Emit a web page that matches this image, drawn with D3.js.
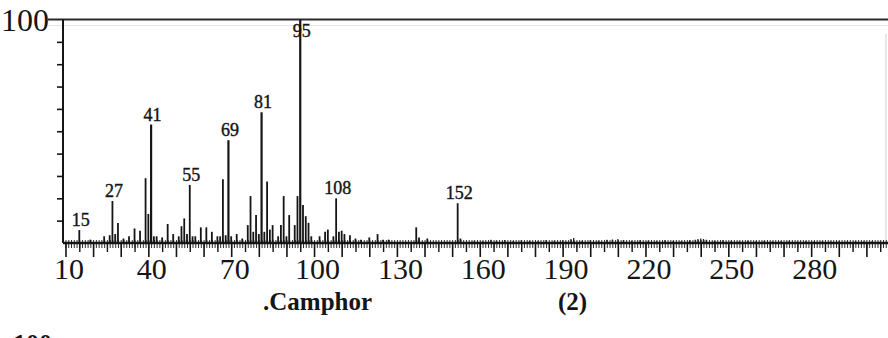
<!DOCTYPE html>
<html>
<head>
<meta charset="utf-8">
<script src="https://cdn.jsdelivr.net/npm/d3@7/dist/d3.min.js"></script>
<style>
  html, body { margin: 0; padding: 0; background: #fff; }
  svg { display: block; }
  .axis path { display: none; }
  .axis line { stroke: #151515; }
</style>
</head>
<body>
<div id="chart"></div>
<script>
// Camphor EI mass spectrum (relative intensity %)
let peakMz  = [15, 19, 24, 26, 27, 28, 29, 31, 33, 35, 37, 39, 40, 41, 42, 43, 45, 47, 49, 51,
               52, 53, 54, 55, 56, 57, 59, 61, 63, 65, 66, 67, 68, 69, 70, 72, 74, 76, 77, 78,
               79, 80, 81, 82, 83, 84, 85, 87, 88, 89, 90, 91, 93, 94, 95, 96, 97, 98, 99, 102,
               104, 105, 107, 108, 109, 110, 111, 113, 115, 117, 120, 123, 125, 127, 137, 138, 141, 152, 153];
let peakInt = [5.8, 1.5, 3, 3.5, 18.8, 4, 9, 2, 3, 6.5, 5.5, 29, 13, 53, 3, 3, 2.5, 8.5, 4, 3,
               7.5, 11, 4, 26, 3, 3, 7, 7, 5, 3, 3, 28.5, 3.5, 46, 3, 4, 2, 8, 21, 5,
               12.5, 4, 58.5, 5, 27.5, 6, 8, 3, 8, 21, 3, 12.5, 8, 21, 100, 17, 12, 9, 3, 3,
               5, 6, 3, 20, 5, 5.5, 4, 3.5, 2, 1.5, 2.5, 4, 1.5, 1.5, 7, 2.5, 2, 17.8, 2];

// low level background above the baseline
let noiseMz  = [158, 161, 164, 166, 169, 172, 175, 178, 181, 184, 187, 190, 193, 194, 197, 200,
                203, 206, 208, 210, 212, 215, 218, 221, 224, 227, 230, 233, 236, 238, 239, 240,
                241, 242, 245, 248, 251, 254, 257, 260, 263, 266, 269, 272, 275, 278, 281, 284,
                287, 290, 293, 296, 299, 302, 305];
let noiseInt = [1, 0.8, 1.5, 1, 1.3, 0.8, 1.2, 1, 0.8, 1.3, 1, 1.2, 1.8, 2.2, 1, 1.2,
                1, 1.4, 1.6, 1.8, 1.3, 1, 1.2, 1, 0.8, 1.2, 1, 0.8, 1.2, 1.5, 1.8, 2,
                1.8, 1.4, 1, 1.2, 1, 0.8, 1, 0.8, 1, 0.7, 0.8, 1, 0.7, 0.8, 0.7, 0.8,
                0.7, 0.8, 0.7, 0.8, 0.7, 0.8, 0.7];

let labelMz = [15, 27, 41, 55, 69, 81, 95, 108, 152];
let xTickLabels = [10, 40, 70, 100, 130, 160, 190, 220, 250, 280];
let yTicks = [10, 20, 30, 40, 50, 60, 70, 80, 90];

let width = 888;
let height = 338;
let ink = "#151515";
let serif = "'Liberation Serif', 'DejaVu Serif', serif";

let svg = d3.select('#chart')
  .append("svg")
  .attr("width", width)
  .attr("height", height);

let x = d3.scaleLinear().domain([9.1, 308]).range([63, 888.5]);
let y = d3.scaleLinear().domain([0, 100]).range([243, 19.5]);

// frame: top line, left axis, faint right edge
svg.append("line")
  .attr("x1", 48).attr("x2", width)
  .attr("y1", y(100)).attr("y2", y(100))
  .attr("stroke", "#2a2a2a").attr("stroke-width", 2);
svg.append("line")
  .attr("x1", 48).attr("x2", width)
  .attr("y1", y(100) + 6).attr("y2", y(100) + 6)
  .attr("stroke", "#e6e6e6").attr("stroke-width", 1);
svg.append("line")
  .attr("x1", x.range()[0]).attr("x2", x.range()[0])
  .attr("y1", y(100)).attr("y2", y(0))
  .attr("stroke", ink).attr("stroke-width", 2);
svg.append("line")
  .attr("x1", 886).attr("x2", 886)
  .attr("y1", 34).attr("y2", y(0))
  .attr("stroke", "#d0d0d0").attr("stroke-width", 1);

// y ticks
svg.append("g")
  .attr("class", "axis")
  .attr("transform", "translate(" + x.range()[0] + ",0)")
  .call(d3.axisLeft(y).tickValues(yTicks).tickSize(6).tickFormat(""))
  .selectAll("line").attr("stroke-width", 1.6);

svg.append("text")
  .attr("x", 49).attr("y", 31)
  .attr("text-anchor", "end")
  .attr("font-family", serif)
  .attr("font-size", 32)
  .attr("fill", ink)
  .text("100");

// x ticks: minor, mid, major
let minorTicks = d3.range(10, 308, 1);
let midTicks = d3.range(15, 308, 10);
let majorTicks = d3.range(10, 308, 10);

svg.append("g")
  .attr("class", "axis")
  .attr("transform", "translate(0," + (y(0) - 3) + ")")
  .call(d3.axisBottom(x).tickValues(minorTicks).tickSize(8).tickFormat(""))
  .selectAll("line").attr("stroke-width", 0.9).attr("stroke", "#333");
svg.append("g")
  .attr("class", "axis")
  .attr("transform", "translate(0," + y(0) + ")")
  .call(d3.axisBottom(x).tickValues(midTicks).tickSize(9).tickFormat(""))
  .selectAll("line").attr("stroke-width", 1.4);
svg.append("g")
  .attr("class", "axis")
  .attr("transform", "translate(0," + y(0) + ")")
  .call(d3.axisBottom(x).tickValues(majorTicks).tickSize(14).tickFormat(""))
  .selectAll("line").attr("stroke-width", 1.6);

let xLab = svg.append("g")
  .attr("class", "axis")
  .attr("transform", "translate(3," + y(0) + ")")
  .call(d3.axisBottom(x).tickValues(xTickLabels).tickSize(0).tickPadding(15));
xLab.selectAll("text")
  .attr("font-family", serif)
  .attr("font-size", 30)
  .attr("fill", ink);

// background noise
svg.append("g")
  .selectAll("line")
  .data(noiseMz)
  .enter()
  .append("line")
  .attr("x1", d => x(d)).attr("x2", d => x(d))
  .attr("y1", y(0))
  .attr("y2", (d, i) => y(noiseInt[i]))
  .attr("stroke", "#222")
  .attr("stroke-width", 1.3);

// peaks
svg.append("g")
  .selectAll("line")
  .data(peakMz)
  .enter()
  .append("line")
  .attr("x1", d => x(d)).attr("x2", d => x(d))
  .attr("y1", y(0))
  .attr("y2", (d, i) => y(peakInt[i]))
  .attr("stroke", ink)
  .attr("stroke-width", (d, i) => peakInt[i] > 40 ? 2.2 : 1.8);

// baseline
svg.append("line")
  .attr("x1", x.range()[0]).attr("x2", width)
  .attr("y1", y(0)).attr("y2", y(0))
  .attr("stroke", ink).attr("stroke-width", 2.6);

// peak labels
svg.append("g")
  .selectAll("text")
  .data(labelMz)
  .enter()
  .append("text")
  .attr("x", d => x(d) + 1.5)
  .attr("y", d => d === 95 ? 37 : y(peakInt[peakMz.indexOf(d)]) - 4)
  .attr("text-anchor", "middle")
  .attr("font-family", serif)
  .attr("font-size", 18)
  .attr("fill", ink)
  .attr("stroke", ink)
  .attr("stroke-width", 0.4)
  .text(d => d);

// caption
svg.append("text")
  .attr("x", 263).attr("y", 310)
  .attr("font-family", serif)
  .attr("font-size", 25)
  .attr("font-weight", "bold")
  .attr("fill", ink)
  .text(".Camphor");
svg.append("text")
  .attr("x", 558).attr("y", 310)
  .attr("font-family", serif)
  .attr("font-size", 25)
  .attr("font-weight", "bold")
  .attr("fill", ink)
  .text("(2)");
svg.append("text")
  .attr("x", 13).attr("y", 352)
  .attr("font-family", serif)
  .attr("font-size", 26)
  .attr("font-weight", "bold")
  .attr("fill", ink)
  .text("100");
</script>
</body>
</html>
